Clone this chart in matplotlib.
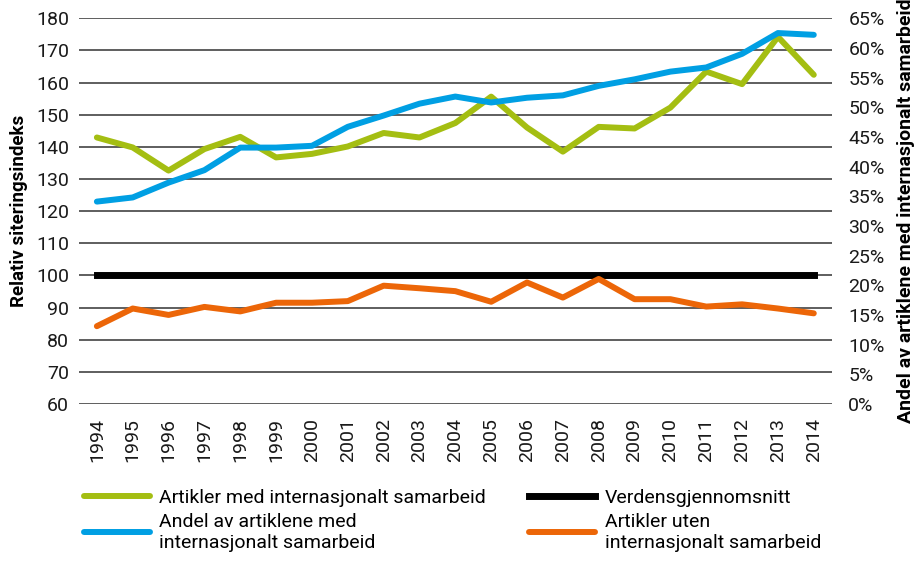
import matplotlib
matplotlib.use('Agg')
import matplotlib.pyplot as plt
from matplotlib.ticker import FuncFormatter

plt.rcParams['font.family'] = ['Roboto', 'DejaVu Sans']

years = list(range(1994, 2015))
med_samarbeid = [142.9, 139.8, 132.6, 139.3, 143.1, 136.7, 137.8, 140.1, 144.3, 142.9, 147.4,
                 155.6, 146.0, 138.5, 146.2, 145.7, 152.2, 163.4, 159.5, 174.2, 162.4]
uten_samarbeid = [84.2, 89.7, 87.7, 90.2, 88.8, 91.5, 91.5, 92.0, 96.8, 96.0, 95.1,
                  91.8, 97.8, 93.1, 98.9, 92.6, 92.6, 90.3, 91.0, 89.7, 88.2]
verden = [100] * len(years)
andel_pct = [34.1, 34.8, 37.3, 39.4, 43.2, 43.2, 43.5, 46.7, 48.6, 50.6, 51.8,
             50.8, 51.6, 52.0, 53.6, 54.7, 56.0, 56.7, 59.0, 62.5, 62.2]

green = '#a4be12'
blue = '#009fe3'
orange = '#ec6608'

fig = plt.figure(figsize=(9.18, 5.69), dpi=100)
ax = fig.add_axes([0.086, 0.29, 0.820, 0.678])
ax2 = ax.twinx()

lw = 4.3
l1, = ax.plot(years, med_samarbeid, color=green, lw=lw, solid_capstyle='round', zorder=3,
              label='Artikler med internasjonalt samarbeid')
l3, = ax.plot(years, verden, color='black', lw=5, zorder=3, label='Verdensgjennomsnitt')
l4, = ax.plot(years, uten_samarbeid, color=orange, lw=lw, solid_capstyle='round', zorder=3,
              label='Artikler uten\ninternasjonalt samarbeid')
l2, = ax2.plot(years, andel_pct, color=blue, lw=lw, solid_capstyle='round', zorder=3,
               label='Andel av artiklene med\ninternasjonalt samarbeid')

ax.set_xlim(1993.5, 2014.5)
ax.set_ylim(60, 180)
ax.set_yticks(range(60, 181, 10))
ax2.set_ylim(0, 65)
ax2.set_yticks(range(0, 66, 5))
ax2.yaxis.set_major_formatter(FuncFormatter(lambda v, p: f'{v:.0f}%'))

ax.set_xticks(years)
ax.set_xticklabels([str(y) for y in years], rotation=90)

ax.grid(axis='y', color='#333333', lw=1.1)
ax.set_axisbelow(True)
for a in (ax, ax2):
    for s in a.spines.values():
        s.set_visible(False)
    a.tick_params(length=0, labelsize=14, colors='#1a1a1a')
ax.tick_params(axis='y', pad=7)
ax2.tick_params(axis='y', pad=12)
ax.tick_params(axis='x', pad=10)

ax.set_ylabel('Relativ siteringsindeks', fontsize=13.5, fontweight='bold', labelpad=6)
ax2.set_ylabel('Andel av artiklene med internasjonalt samarbeid', fontsize=14,
               fontweight='bold', labelpad=9)

fig.legend(handles=[l1, l2, l3, l4], loc='lower left', bbox_to_anchor=(0.072, 0.0),
           ncol=2, frameon=False, fontsize=14, handlelength=3.4, handletextpad=0.5,
           columnspacing=2.2, labelspacing=0.3)

fig.savefig('out.png', dpi=100)
